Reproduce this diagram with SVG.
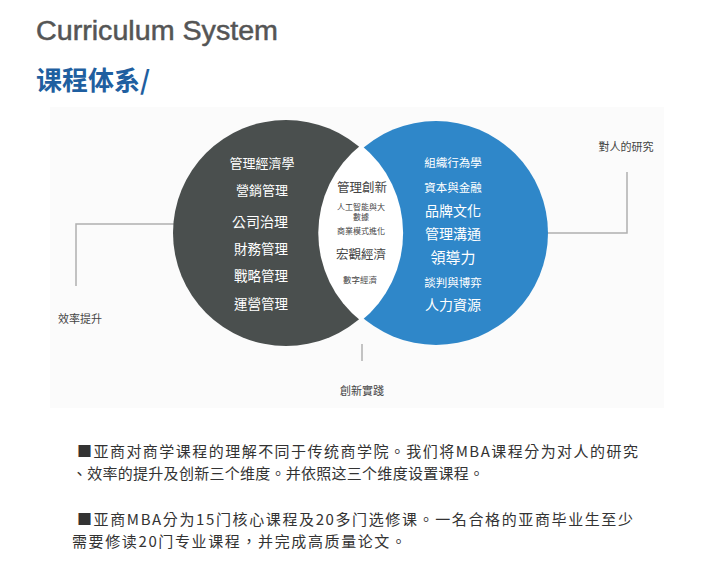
<svg xmlns="http://www.w3.org/2000/svg" width="704" height="571" viewBox="0 0 704 571">
<style>
text{font-family:"Noto Sans CJK TC","Noto Sans CJK SC",sans-serif}
.w{fill:#fff;text-anchor:middle}
.c{fill:#444;text-anchor:middle}
.l{fill:none;stroke:#b0b0b0;stroke-width:1.5}
.b{fill:#333;font-size:15px}
</style>
<rect width="704" height="571" fill="#fff"/>
<text x="36" y="40" style="font-family:'Liberation Sans',sans-serif" font-size="27" fill="#555" stroke="#555" stroke-width="0.5" textLength="242" lengthAdjust="spacingAndGlyphs">Curriculum System</text>
<text x="36" y="90" font-size="26" font-weight="bold" fill="#1f5fa0">课程体系/</text>
<rect x="50" y="107" width="614" height="301" fill="#fbfbfb"/>
<g id="connectors">
<polyline class="l" points="548,233 627,233 627,172"/>
<polyline class="l" points="178,224 76,224 76,286"/>
<line class="l" x1="362" y1="344" x2="362" y2="361"/>
</g>
<g id="left">
<circle cx="286" cy="233" r="113" fill="#4a4f4e"/>
<text class="w" x="262" y="168" font-size="13">管理經濟學</text>
<text class="w" x="262" y="195" font-size="13">營銷管理</text>
<text class="w" x="260" y="227" font-size="14">公司治理</text>
<text class="w" x="261" y="254" font-size="13.5">財務管理</text>
<text class="w" x="261" y="281" font-size="13.5">戰略管理</text>
<text class="w" x="261" y="309" font-size="13.5">運營管理</text>
</g>
<g id="right">
<circle cx="436" cy="233" r="112" fill="#2f87c9"/>
<text class="w" x="453" y="167" font-size="11.5">組織行為學</text>
<text class="w" x="453" y="192" font-size="11.5">資本與金融</text>
<text class="w" x="453" y="216" font-size="14">品牌文化</text>
<text class="w" x="453" y="239" font-size="14">管理溝通</text>
<text class="w" x="453" y="263" font-size="15">領導力</text>
<text class="w" x="453" y="287" font-size="11.5">談判與博弈</text>
<text class="w" x="453" y="310" font-size="14">人力資源</text>
</g>
<g id="center">
<path d="M361,145 A113,113 0 0 1 361,321 A112,112 0 0 1 361,145 Z" fill="#fff"/>
<text class="c" x="362" y="192" font-size="12.5">管理創新</text>
<text class="c" x="361" y="210" font-size="8">人工智能與大</text>
<text class="c" x="361" y="220" font-size="8">數據</text>
<text class="c" x="361" y="234" font-size="8">商業模式進化</text>
<text class="c" x="361" y="259" font-size="12.5">宏觀經濟</text>
<text class="c" x="360" y="283" font-size="8.5">數字經濟</text>
</g>
<text class="c" x="626" y="151" font-size="11">對人的研究</text>
<text class="c" x="80" y="323" font-size="11">效率提升</text>
<text class="c" x="362" y="395" font-size="11">創新實踐</text>
<text class="b" x="77" y="457" textLength="561" lengthAdjust="spacing">■亚商对商学课程的理解不同于传统商学院。我们将MBA课程分为对人的研究</text>
<text class="b" x="72" y="479" textLength="412" lengthAdjust="spacing">、效率的提升及创新三个维度。并依照这三个维度设置课程。</text>
<text class="b" x="77" y="525" textLength="556" lengthAdjust="spacing">■亚商MBA分为15门核心课程及20多门选修课。一名合格的亚商毕业生至少</text>
<text class="b" x="72" y="547" textLength="334" lengthAdjust="spacing">需要修读20门专业课程，并完成高质量论文。</text>
</svg>
